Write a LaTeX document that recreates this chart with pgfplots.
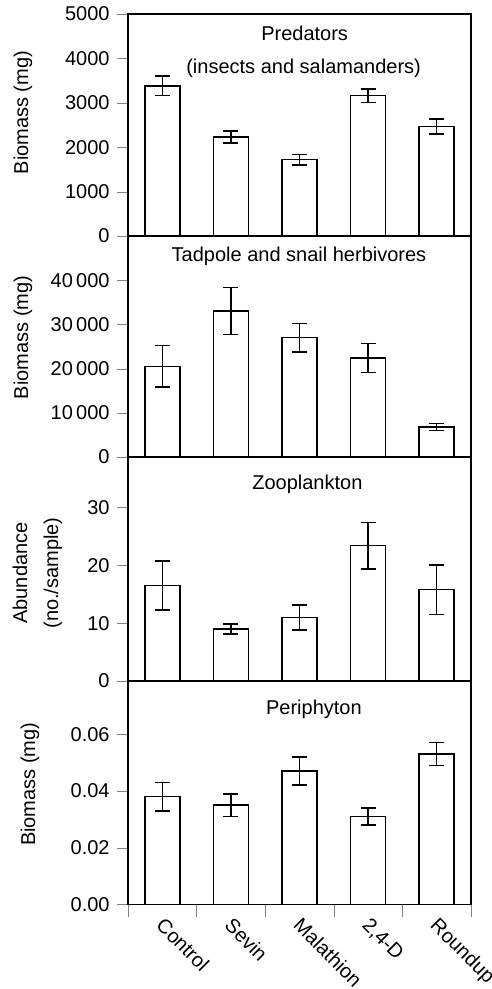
\documentclass[border=0pt]{standalone}
\usepackage{fontspec}
\setmainfont{Liberation Sans}
\usepackage{pgfplots}
\pgfplotsset{compat=1.18}
\pgfplotsset{
  panel/.style={
    scale only axis,
    clip mode=individual,
    width=343pt,
    xmin=-0.5, xmax=4.5,
    ymin=0,
    line width=1.5pt,
    tick align=outside,
    ytick pos=left,
    xtick pos=bottom,
    major tick length=11pt,
    minor tick length=12pt,
    xtick=\empty,
    scaled ticks=false,
    /pgf/number format/assume math mode=true,
    ybar, bar width=35pt,
  },
  barplot/.style={
    draw=black, fill=white, line width=1.5pt, bar shift=0pt,
    error bars/.cd, y dir=both, y explicit,
    error bar style={line width=1.5pt},
    error mark options={rotate=90, mark size=7.5pt, line width=1.5pt},
  },
}
\begin{document}
\fontsize{20}{24}\selectfont
\begin{tikzpicture}
% Panel 1
\begin{axis}[panel, at={(0pt,0pt)}, anchor=north west, height=222pt, ymax=5000,
  ytick={0,1000,2000,3000,4000,5000},
  yticklabels={0,1000,2000,3000,4000,5000}]
\addplot[barplot] coordinates {
 (0,3380) +- (0,220)
 (1,2230) +- (0,130)
 (2,1720) +- (0,120)
 (3,3160) +- (0,150)
 (4,2470) +- (0,170)};
\node[anchor=base] at (rel axis cs:0.515,0.880) {Predators};
\node[anchor=base] at (rel axis cs:0.512,0.730) {(insects and salamanders)};
\node[rotate=90, anchor=center] at (axis description cs:-0.306,0.556) {Biomass (mg)};
\end{axis}
% Panel 2
\begin{axis}[panel, at={(0pt,-222pt)}, anchor=north west, height=221pt, ymax=50000,
  ytick={0,10000,20000,30000,40000},
  yticklabels={0,10\,000,20\,000,30\,000,40\,000}]
\addplot[barplot] coordinates {
 (0,20500) +- (0,4700)
 (1,33000) +- (0,5300)
 (2,27000) +- (0,3200)
 (3,22400) +- (0,3300)
 (4,6800) +- (0,750)};
\node[anchor=base] at (rel axis cs:0.4985,0.884) {Tadpole and snail herbivores};
\node[rotate=90, anchor=center] at (axis description cs:-0.306,0.541) {Biomass (mg)};
\end{axis}
% Panel 3
\begin{axis}[panel, at={(0pt,-443pt)}, anchor=north west, height=224pt, ymax=38.75,
  ytick={0,10,20,30},
  yticklabels={0,10,20,30}]
\addplot[barplot] coordinates {
 (0,16.5) +- (0,4.25)
 (1,9.0) +- (0,0.85)
 (2,11.0) +- (0,2.15)
 (3,23.4) +- (0,4.0)
 (4,15.8) +- (0,4.3)};
\node[anchor=base] at (rel axis cs:0.523,0.855) {Zooplankton};
\node[rotate=90, anchor=center] at (axis description cs:-0.315,0.482) {Abundance};
\node[rotate=90, anchor=center] at (axis description cs:-0.219,0.482) {(no./sample)};
\end{axis}
% Panel 4
\begin{axis}[panel, at={(0pt,-667pt)}, anchor=north west, height=223.5pt, ymax=0.0787,
  ytick={0,0.02,0.04,0.06},
  yticklabels={0.00,0.02,0.04,0.06},
  xtick={0,1,2,3,4},
  xticklabels={Control,Sevin,Malathion,{2,4-D},Roundup},
  major x tick style={draw=none},
  minor xtick={-0.5,0.5,1.5,2.5,3.5,4.5},
  xticklabel style={rotate=-45, anchor=north west, xshift=-4.5pt, yshift=8.8pt}]
\addplot[barplot] coordinates {
 (0,0.038) +- (0,0.005)
 (1,0.035) +- (0,0.004)
 (2,0.047) +- (0,0.005)
 (3,0.031) +- (0,0.003)
 (4,0.053) +- (0,0.004)};
\node[anchor=base] at (rel axis cs:0.542,0.850) {Periphyton};
\node[rotate=90, anchor=center] at (axis description cs:-0.286,0.538) {Biomass (mg)};
\end{axis}
\pgfresetboundingbox
\path[use as bounding box] (-128pt,14pt) rectangle (364pt,-975pt);
\end{tikzpicture}
\end{document}
